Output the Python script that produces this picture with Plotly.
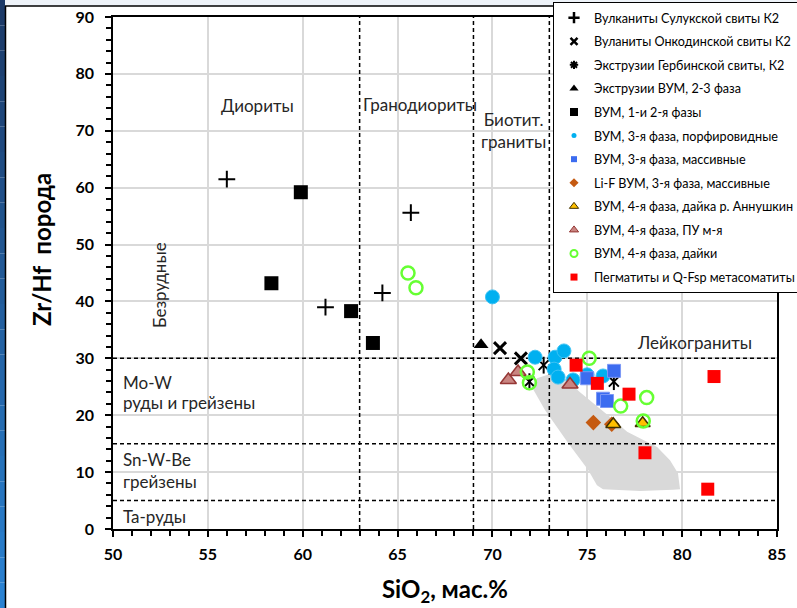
import plotly.graph_objects as go

# ---- data: SiO2 (wt.%) vs Zr/Hf ----
sulukskaya_x = [56.0, 65.7, 61.2, 64.2]
sulukskaya_y = [61.5, 55.6, 39.0, 41.5]

onkodinskaya_x = [70.4, 71.5]
onkodinskaya_y = [31.8, 30.0]

gerbinskaya_x = [71.95, 72.7, 76.4]
gerbinskaya_y = [25.9, 28.8, 25.9]

vum_extr_x = [69.4]
vum_extr_y = [32.4]

vum12_x = [59.9, 58.35, 62.55, 63.7]
vum12_y = [59.2, 43.2, 38.3, 32.7]

vum3_porph_x = [70.0, 72.25, 73.3, 73.77, 73.25, 73.46, 74.25, 74.99, 75.83]
vum3_porph_y = [40.8, 30.2, 30.2, 31.3, 28.1, 26.7, 26.2, 27.1, 26.9]

vum3_mass_x = [74.99, 76.41, 75.83, 76.04]
vum3_mass_y = [26.5, 27.8, 22.9, 22.5]

lif_x = [75.32, 76.29]
lif_y = [18.7, 18.4]

annushkin_x = [76.37, 77.92]
annushkin_y = [18.4, 18.6]

pu_x = [70.84, 71.35, 74.09]
pu_y = [26.2, 27.6, 25.4]

dykes_x = [65.55, 65.97, 71.84, 71.95, 75.1, 76.76, 78.13, 77.95]
dykes_y = [45.0, 42.4, 27.6, 25.7, 30.0, 21.6, 23.1, 19.0]

pegm_x = [74.41, 75.53, 77.2, 78.04, 81.68, 81.35]
pegm_y = [28.8, 25.6, 23.7, 13.4, 26.8, 7.0]

# outline of the shaded field
field_x = [72.35, 72.07, 72.77, 73.99, 75.04, 75.51, 75.83, 77.78, 79.52, 79.89,
           79.78, 79.36, 78.68, 77.78, 77.10, 76.2, 75.3, 74.6, 73.93, 73.2]
field_y = [26.5, 25.0, 20.9, 15.1, 10.4, 7.7, 7.0, 6.7, 6.9, 7.0,
           9.8, 12.1, 14.4, 16.0, 17.1, 19.7, 22.1, 24.1, 26.2, 27.4]

# classification boundaries
sio2_bounds = [63, 69, 73]
zrhf_bounds = [30, 15, 5]

X_RANGE = [50, 85]
Y_RANGE = [0, 90]

# ---- figure geometry (pixels) ----
W, H = 797, 608
ML, MR, MT, MB = 113, 20, 17, 79
PW, PH = W - ML - MR, H - MT - MB


def px(xp):
    return (xp - ML) / PW


def py(yp):
    return (H - MB - yp) / PH


FONT = "Lato"
fig = go.Figure()

fig.add_trace(go.Scatter(x=field_x, y=field_y, fill="toself", fillcolor="#d9d9d9",
                         mode="lines", line=dict(width=0), showlegend=False,
                         hoverinfo="skip"))

dash_style = dict(color="black", width=1.5, dash="4px,3px")
for xb in sio2_bounds:
    fig.add_trace(go.Scatter(x=[xb, xb], y=Y_RANGE, mode="lines", line=dash_style,
                             showlegend=False, hoverinfo="skip"))
for yb in zrhf_bounds:
    fig.add_trace(go.Scatter(x=X_RANGE, y=[yb, yb], mode="lines", line=dash_style,
                             showlegend=False, hoverinfo="skip"))

series = [
    ("Вулканиты Сулукской свиты К2", sulukskaya_x, sulukskaya_y,
     dict(symbol="cross-thin-open", size=12, color="black", line=dict(width=2)),
     dict(symbol="cross-thin-open", size=8, color="black", line=dict(width=2.5))),
    ("Вуланиты Онкодинской свиты К2", onkodinskaya_x, onkodinskaya_y,
     dict(symbol="x-thin-open", size=12, color="black", line=dict(width=3)),
     dict(symbol="x-thin-open", size=7, color="black", line=dict(width=2.5))),
    ("Экструзии Гербинской свиты, К2", gerbinskaya_x, gerbinskaya_y,
     dict(symbol="x-thin-open", size=10, color="black", line=dict(width=2)),
     dict(symbol="asterisk-open", size=7, color="black", line=dict(width=2))),
    ("Экструзии ВУМ, 2-3 фаза", vum_extr_x, vum_extr_y,
     dict(symbol="triangle-up", size=13, color="black"),
     dict(symbol="triangle-up", size=8, color="black")),
    ("ВУМ, 1-и 2-я фазы", vum12_x, vum12_y,
     dict(symbol="square", size=14, color="black"),
     dict(symbol="square", size=8, color="black")),
    ("ВУМ, 3-я фаза, порфировидные", vum3_porph_x, vum3_porph_y,
     dict(symbol="circle", size=14, color="#00b0f0", line=dict(color="#3fc3f4", width=1)),
     dict(symbol="circle", size=5, color="#00b0f0")),
    ("ВУМ, 3-я фаза, массивные", vum3_mass_x, vum3_mass_y,
     dict(symbol="square", size=13, color="#3c6cf0", line=dict(color="#7c98f5", width=1)),
     dict(symbol="square", size=6, color="#3c6cf0")),
    ("Li-F ВУМ, 3-я фаза, массивные", lif_x, lif_y,
     dict(symbol="diamond", size=12, color="#c55a11"),
     dict(symbol="diamond", size=7, color="#c55a11")),
    ("ВУМ, 4-я фаза, дайка р. Аннушкин", annushkin_x, annushkin_y,
     dict(symbol="triangle-up", size=13, color="#ffc000", line=dict(color="#3f3000", width=1.5)),
     dict(symbol="triangle-up", size=8, color="#ffc000", line=dict(color="#3f3000", width=1))),
    ("ВУМ, 4-я фаза, ПУ м-я", pu_x, pu_y,
     dict(symbol="triangle-up", size=14, color="#c98581", line=dict(color="#953735", width=1.5)),
     dict(symbol="triangle-up", size=8, color="#c98581", line=dict(color="#953735", width=1))),
    ("ВУМ, 4-я фаза, дайки", dykes_x, dykes_y,
     dict(symbol="circle-open", size=13, color="#66ff33", line=dict(width=2.5)),
     dict(symbol="circle-open", size=7, color="#66ff33", line=dict(width=2))),
    ("Пегматиты и Q-Fsp метасоматиты", pegm_x, pegm_y,
     dict(symbol="square", size=13, color="#ff0000"),
     dict(symbol="square", size=7, color="#ff0000")),
]

for i, (name, xs, ys, mk, legmk) in enumerate(series):
    grp = f"g{i}"
    fig.add_trace(go.Scatter(x=xs, y=ys, mode="markers", marker=mk, name=name,
                             legendgroup=grp, showlegend=False, cliponaxis=False))
    if i == 2:
        # vertical bar of the star marker
        fig.add_trace(go.Scatter(x=xs, y=ys, mode="markers", legendgroup=grp,
                                 marker=dict(symbol="line-ns-open", size=12,
                                             color="black", line=dict(width=2)),
                                 showlegend=False, hoverinfo="skip"))
    fig.add_trace(go.Scatter(x=[None], y=[None], mode="markers", marker=legmk,
                             name=name, legendgroup=grp, showlegend=True))

# ---- region labels ----
lab_font = dict(family=FONT, size=17, color="#262626")
labels = [
    ("Диориты", 57.64, 74.5),
    ("Гранодиориты", 66.2, 74.7),
    ("Биотит.<br>граниты", 71.1, 70.0),
    ("Лейкограниты", 80.63, 32.7),
]
for t, x, y in labels:
    fig.add_annotation(x=x, y=y, text=t, showarrow=False, font=lab_font,
                       xanchor="center", yanchor="middle", align="center")
fig.add_annotation(x=52.48, y=42.9, text="Безрудные", showarrow=False, font=lab_font,
                   textangle=-90, xanchor="center", yanchor="middle")
left_lines = [("Mo-W", 382), ("руды и грейзены", 402), ("Sn-W-Be", 459),
              ("грейзены", 481), ("Та-руды", 516)]
for t, yp in left_lines:
    fig.add_annotation(x=px(121), y=py(yp), xref="paper", yref="paper", text=t,
                       showarrow=False, font=lab_font, xanchor="left", yanchor="middle")

# ---- axis titles ----
fig.add_annotation(x=0.5, y=py(590), xref="paper", yref="paper",
                   text="SiO<sub>2</sub>, мас.%", showarrow=False,
                   font=dict(family=FONT, size=24, color="black", weight="bold"),
                   xanchor="center", yanchor="middle")
fig.add_annotation(x=px(41), y=py(250), xref="paper", yref="paper",
                   text="Zr/Hf  порода", showarrow=False, textangle=-90,
                   font=dict(family=FONT, size=24, color="black", weight="bold"),
                   xanchor="center", yanchor="middle")

# ---- frame decoration ----
shapes = []
n = 24
top_c = (28, 58, 104)
bot_c = (42, 130, 210)
for k in range(n):
    f = k / (n - 1)
    c = tuple(int(top_c[j] + (bot_c[j] - top_c[j]) * f) for j in range(3))
    shapes.append(dict(type="rect", xref="paper", yref="paper", x0=px(0), x1=px(5),
                       y0=py(H * (k + 1) / n), y1=py(H * k / n),
                       fillcolor=f"rgb{c}", line=dict(width=0), layer="below"))
shapes.append(dict(type="rect", xref="paper", yref="paper", x0=px(5), x1=px(W),
                   y0=py(6), y1=py(0), fillcolor="#eef3f9", line=dict(width=0),
                   layer="below"))
shapes.append(dict(type="line", xref="paper", yref="paper", x0=px(5), x1=px(W),
                   y0=py(6), y1=py(6), line=dict(color="black", width=1.5)))
shapes.append(dict(type="line", xref="paper", yref="paper", x0=px(5.5), x1=px(5.5),
                   y0=py(H), y1=py(6), line=dict(color="black", width=1.5)))

tick_font = dict(family=FONT, size=16, color="black", weight="bold")
fig.update_layout(
    width=W, height=H,
    margin=dict(l=ML, r=MR, t=MT, b=MB, autoexpand=False),
    paper_bgcolor="white", plot_bgcolor="white",
    font=dict(family=FONT, color="black"),
    shapes=shapes,
    showlegend=True,
    legend=dict(x=px(553), y=py(2), xanchor="left", yanchor="top",
                bgcolor="white", bordercolor="black", borderwidth=1,
                font=dict(family=FONT, size=12.6, color="black"),
                tracegroupgap=4.2, itemwidth=30, itemclick=False,
                itemdoubleclick=False),
    xaxis=dict(range=X_RANGE, dtick=5, tick0=50, showgrid=True, gridcolor="#d9d9d9",
               gridwidth=1.5, showline=True, linecolor="black", linewidth=1.5,
               mirror=True, ticks="outside", ticklen=6, tickwidth=1.5,
               tickcolor="black", zeroline=False, tickfont=tick_font,
               ticklabelstandoff=4,
               minor=dict(dtick=1, ticks="outside", ticklen=5, tickwidth=1.5,
                          tickcolor="black", showgrid=False)),
    yaxis=dict(range=Y_RANGE, dtick=10, tick0=0, showgrid=True, gridcolor="#d9d9d9",
               gridwidth=1.5, showline=True, linecolor="black", linewidth=1.5,
               mirror=True, ticks="outside", ticklen=6, tickwidth=1.5,
               tickcolor="black", zeroline=False, tickfont=tick_font,
               ticklabelstandoff=8,
               minor=dict(dtick=2, ticks="outside", ticklen=5, tickwidth=1.5,
                          tickcolor="black", showgrid=False)),
)

fig.write_html("out.html")
